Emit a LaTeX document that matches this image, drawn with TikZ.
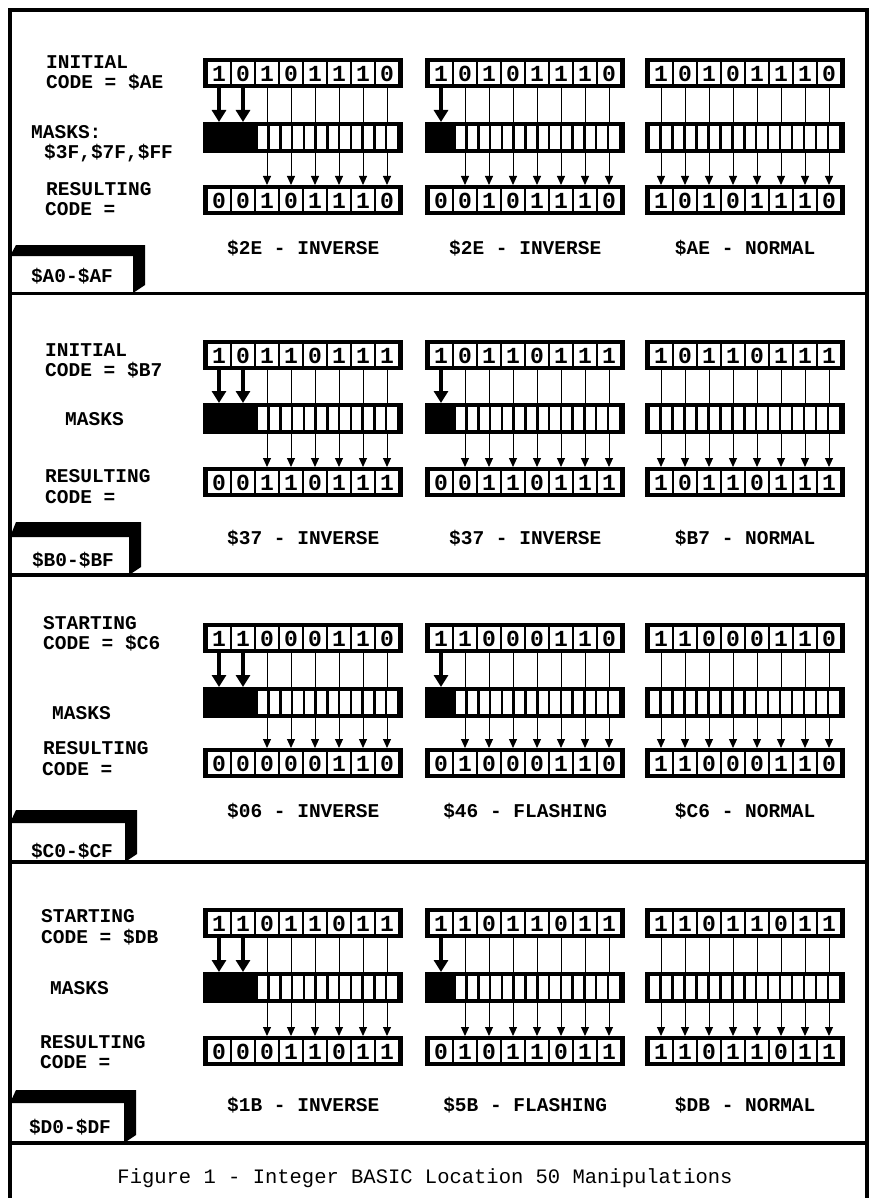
\documentclass[tikz,border=0pt]{standalone}
\usepackage{fontspec}
\setmonofont{Liberation Mono}
\usetikzlibrary{arrows.meta,calc}
\tikzset{
  regbox/.style={fill=black, draw=none, minimum width=200pt, minimum height=30pt, inner sep=0pt, anchor=north west},
  digit/.style={font=\ttfamily\bfseries\fontsize{23}{23}\selectfont, inner sep=0pt},
  lbl/.style={font=\ttfamily\bfseries\fontsize{19.5}{20}\selectfont, anchor=west, inner sep=0pt},
  clbl/.style={font=\ttfamily\bfseries\fontsize{19.5}{20}\selectfont, inner sep=0pt},
  captext/.style={font=\ttfamily\fontsize{20.5}{22}\selectfont, inner sep=0pt},
  thickarrow/.style={line width=4.5pt, -{Triangle[width=14pt,length=12pt]}},
  thinarrow/.style={line width=1pt, -{Triangle[width=8pt,length=9pt]}},
  thinline/.style={line width=1pt},
  frameline/.style={line width=3.5pt},
  tabshadow/.style={fill=black, draw=none},
}
\newcommand\regdraw[4]{%
  \node[regbox] (#1) at (#2,#3) {};
  \foreach \d [count=\i from 0] in {#4} {
    \fill[white] ([xshift=\i*24pt+5pt, yshift=-4pt]#1.north west) rectangle ++(22pt,-22pt);
    \node[digit] (#1d\i) at ([xshift=\i*24pt+16pt, yshift=-15.5pt]#1.north west) {\d};
  }%
}
\newcommand\maskdraw[5]{%
  \node[regbox, minimum height=31pt] (#1) at (#2,#3) {};
  \pgfmathsetmacro\pp{(196-#4)/#5}%
  \pgfmathsetmacro\ww{\pp-2.5}%
  \foreach \j in {1,...,#5} {
    \fill[white] ([xshift={(#4+(\j-1)*\pp)*1pt}, yshift=-4pt]#1.north west) rectangle ++(\ww pt,-23pt);
  }%
}
\newcommand\col[8]{%
  \regdraw{r#1}{#2}{\yr}{#6}
  \maskdraw{m#1}{#2}{\ym}{#4}{#5}
  \regdraw{s#1}{#2}{\ys}{#7}
  \foreach \b in {0,...,7} {
    \ifnum\b<#3\relax
      \draw[thickarrow] ([xshift=\b*24pt+16pt]r#1.south west) -- ([xshift=\b*24pt+16pt]m#1.north west);
    \else
      \draw[thinline] ([xshift=\b*24pt+16pt]r#1.south west) -- ([xshift=\b*24pt+16pt]m#1.north west);
      \draw[thinarrow] ([xshift=\b*24pt+16pt]m#1.south west) -- ([xshift=\b*24pt+16pt]s#1.north west);
    \fi
  }
  \node[clbl] (l#1) at ($(s#1.south)+(0,\yl-\ys-30)$) {#8};
}
\begin{document}
\begin{tikzpicture}[x=1pt,y=-1pt]
\useasboundingbox (0,0) rectangle (873,1198);
\fill[white] (0,0) rectangle (873,1198);
% frame
\draw[frameline] (10,1198) -- (10,10) -- (867,10) -- (867,1198);
\foreach \yy in {293.5,575,862,1143} { \draw[frameline] (10,\yy) -- (867,\yy); }

% ---------- Panel 1
\def\yr{58}\def\ym{122}\def\ys{185}\def\yl{248}
\col{a1}{203}{2}{55}{12}{1,0,1,0,1,1,1,0}{0,0,1,0,1,1,1,0}{\$2E - INVERSE}
\col{a2}{425}{1}{31}{14}{1,0,1,0,1,1,1,0}{0,0,1,0,1,1,1,0}{\$2E - INVERSE}
\col{a3}{645}{0}{5}{16}{1,0,1,0,1,1,1,0}{1,0,1,0,1,1,1,0}{\$AE - NORMAL}
\node[lbl] (a-t1) at (46,62) {INITIAL};
\node[lbl] (a-t2) at (46,82) {CODE = \$AE};
\node[lbl] (a-t3) at (31,132) {MASKS:};
\node[lbl] (a-t4) at (44,153) {\$3F,\$7F,\$FF};
\node[lbl] (a-t5) at (46,189) {RESULTING};
\node[lbl] (a-t6) at (45,209) {CODE =};
\fill[tabshadow] (16,245) -- (145,245) -- (145,285) -- (133,293) -- (133,256) -- (10,256) -- cycle;
\node[clbl] (a-tab) at (72,276) {\$A0-\$AF};

% ---------- Panel 2
\def\yr{340}\def\ym{403}\def\ys{467}\def\yl{538}
\col{b1}{203}{2}{55}{12}{1,0,1,1,0,1,1,1}{0,0,1,1,0,1,1,1}{\$37 - INVERSE}
\col{b2}{425}{1}{31}{14}{1,0,1,1,0,1,1,1}{0,0,1,1,0,1,1,1}{\$37 - INVERSE}
\col{b3}{645}{0}{5}{16}{1,0,1,1,0,1,1,1}{1,0,1,1,0,1,1,1}{\$B7 - NORMAL}
\node[lbl] (b-t1) at (45,350) {INITIAL};
\node[lbl] (b-t2) at (45,370) {CODE = \$B7};
\node[lbl] (b-t3) at (65,419) {MASKS};
\node[lbl] (b-t5) at (45,476) {RESULTING};
\node[lbl] (b-t6) at (45,497) {CODE =};
\fill[tabshadow] (16,522) -- (141,522) -- (141,567) -- (129,575) -- (129,537) -- (10,537) -- cycle;
\node[clbl] (b-tab) at (73,560) {\$B0-\$BF};

% ---------- Panel 3
\def\yr{623}\def\ym{687}\def\ys{748}\def\yl{811}
\col{c1}{203}{2}{55}{12}{1,1,0,0,0,1,1,0}{0,0,0,0,0,1,1,0}{\$06 - INVERSE}
\col{c2}{425}{1}{31}{14}{1,1,0,0,0,1,1,0}{0,1,0,0,0,1,1,0}{\$46 - FLASHING}
\col{c3}{645}{0}{5}{16}{1,1,0,0,0,1,1,0}{1,1,0,0,0,1,1,0}{\$C6 - NORMAL}
\node[lbl] (c-t1) at (43,623) {STARTING};
\node[lbl] (c-t2) at (43,643) {CODE = \$C6};
\node[lbl] (c-t3) at (52,713) {MASKS};
\node[lbl] (c-t5) at (43,748) {RESULTING};
\node[lbl] (c-t6) at (42,769) {CODE =};
\fill[tabshadow] (16,810) -- (137,810) -- (137,854) -- (125,862) -- (125,823) -- (10,823) -- cycle;
\node[clbl] (c-tab) at (72,851) {\$C0-\$CF};

% ---------- Panel 4
\def\yr{908}\def\ym{972}\def\ys{1036}\def\yl{1105}
\col{d1}{203}{2}{55}{12}{1,1,0,1,1,0,1,1}{0,0,0,1,1,0,1,1}{\$1B - INVERSE}
\col{d2}{425}{1}{31}{14}{1,1,0,1,1,0,1,1}{0,1,0,1,1,0,1,1}{\$5B - FLASHING}
\col{d3}{645}{0}{5}{16}{1,1,0,1,1,0,1,1}{1,1,0,1,1,0,1,1}{\$DB - NORMAL}
\node[lbl] (d-t1) at (41,916) {STARTING};
\node[lbl] (d-t2) at (41,937) {CODE = \$DB};
\node[lbl] (d-t3) at (50,988) {MASKS};
\node[lbl] (d-t5) at (40,1042) {RESULTING};
\node[lbl] (d-t6) at (40,1062) {CODE =};
\fill[tabshadow] (16,1090) -- (136,1090) -- (136,1135) -- (124,1143) -- (124,1103) -- (10,1103) -- cycle;
\node[clbl] (d-tab) at (70,1127) {\$D0-\$DF};

% ---------- Caption
\node[captext] (caption) at (425,1178) {Figure 1 - Integer BASIC Location 50 Manipulations};
\end{tikzpicture}
\end{document}
